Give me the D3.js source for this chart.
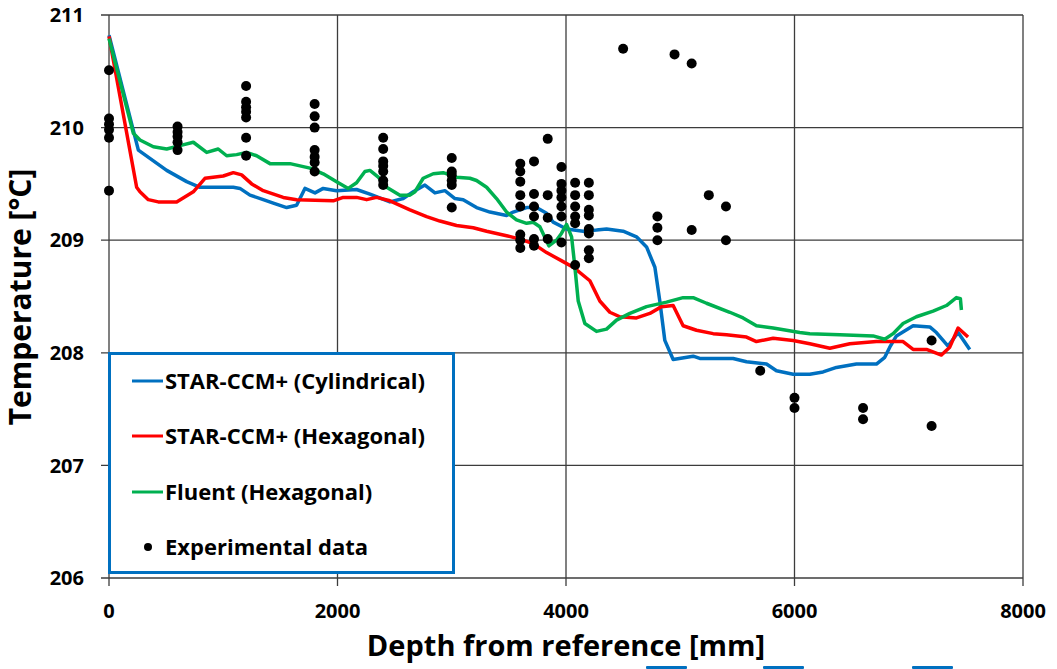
<!DOCTYPE html>
<html>
<head>
<meta charset="utf-8">
<script src="https://cdn.jsdelivr.net/npm/d3@7"></script>
<style>
	body { margin: 0; background: #fff; }
	text { font-family: "Open Sans", Lato, sans-serif; fill: #000; }
</style>
</head>
<body>
<div id="chart"></div>
<script>
// Simulation results, [depth mm, temperature C]
var cylindrical = [
	[0, 210.82], [257, 209.80], [505, 209.62], [680, 209.52], [796, 209.47], [971, 209.47],
	[1088, 209.47], [1146, 209.46], [1234, 209.40], [1350, 209.36], [1438, 209.33], [1555, 209.29],
	[1642, 209.31], [1715, 209.46], [1803, 209.42], [1875, 209.46], [1992, 209.44], [2167, 209.45],
	[2284, 209.41], [2459, 209.34], [2575, 209.37], [2663, 209.43], [2765, 209.49], [2853, 209.42],
	[2940, 209.44], [3028, 209.37], [3100, 209.36], [3217, 209.29], [3334, 209.25], [3480, 209.22],
	[3538, 209.25], [3655, 209.29], [3742, 209.29], [3830, 209.24], [3888, 209.16], [4005, 209.10],
	[4150, 209.08], [4267, 209.09], [4355, 209.10], [4500, 209.08], [4617, 209.03], [4705, 208.94],
	[4778, 208.76], [4821, 208.46], [4865, 208.11], [4938, 207.94], [5113, 207.97], [5171, 207.95],
	[5463, 207.95], [5580, 207.92], [5755, 207.90], [5842, 207.84], [5988, 207.81], [6134, 207.81],
	[6250, 207.83], [6367, 207.87], [6542, 207.90], [6717, 207.90], [6790, 207.96], [6834, 208.05],
	[6892, 208.15], [7038, 208.24], [7184, 208.23], [7242, 208.18], [7344, 208.06], [7432, 208.18],
	[7534, 208.03]
];

var hexagonal = [
	[0, 210.81], [242, 209.47], [271, 209.43], [344, 209.36], [431, 209.34], [592, 209.34],
	[738, 209.43], [840, 209.55], [1000, 209.57], [1088, 209.60], [1161, 209.58], [1249, 209.50],
	[1350, 209.44], [1525, 209.38], [1642, 209.36], [1963, 209.35], [2050, 209.38], [2167, 209.38],
	[2255, 209.36], [2342, 209.38], [2459, 209.35], [2634, 209.27], [2780, 209.21], [2896, 209.17],
	[3042, 209.13], [3188, 209.11], [3305, 209.08], [3480, 209.04], [3596, 209.01], [3713, 208.97],
	[3830, 208.89], [3975, 208.81], [4063, 208.76], [4209, 208.64], [4296, 208.46], [4384, 208.36],
	[4471, 208.32], [4617, 208.31], [4734, 208.35], [4836, 208.41], [4938, 208.42], [5025, 208.24],
	[5142, 208.20], [5288, 208.17], [5405, 208.16], [5580, 208.14], [5667, 208.10], [5813, 208.13],
	[5988, 208.11], [6134, 208.08], [6309, 208.04], [6484, 208.08], [6717, 208.10], [6950, 208.10],
	[7038, 208.03], [7155, 208.03], [7286, 207.98], [7359, 208.05], [7432, 208.22], [7519, 208.14]
];

var fluent = [
	[0, 210.79], [213, 209.95], [271, 209.89], [388, 209.83], [505, 209.81], [621, 209.84],
	[738, 209.87], [855, 209.78], [956, 209.81], [1030, 209.75], [1117, 209.76], [1205, 209.78],
	[1292, 209.75], [1409, 209.68], [1584, 209.68], [1759, 209.64], [1875, 209.59], [1992, 209.52],
	[2094, 209.46], [2167, 209.51], [2240, 209.61], [2284, 209.62], [2357, 209.56], [2430, 209.47],
	[2546, 209.40], [2634, 209.40], [2678, 209.43], [2750, 209.55], [2838, 209.59], [2925, 209.60],
	[3042, 209.56], [3159, 209.55], [3217, 209.53], [3305, 209.47], [3392, 209.37], [3480, 209.25],
	[3567, 209.18], [3655, 209.15], [3713, 209.16], [3771, 209.12], [3850, 208.95], [3917, 209.00],
	[3960, 209.06], [4005, 209.14], [4049, 209.03], [4078, 208.76], [4107, 208.46], [4165, 208.26],
	[4267, 208.19], [4355, 208.21], [4442, 208.29], [4559, 208.35], [4705, 208.41], [4880, 208.45],
	[5025, 208.49], [5113, 208.49], [5230, 208.44], [5434, 208.36], [5550, 208.31], [5667, 208.24],
	[5813, 208.22], [6046, 208.18], [6134, 208.17], [6396, 208.16], [6688, 208.15], [6790, 208.12],
	[6863, 208.17], [6950, 208.26], [7067, 208.32], [7213, 208.37], [7330, 208.42], [7417, 208.49],
	[7452, 208.48], [7461, 208.38]
];

// Experimental thermocouple readings, grouped by depth
var expDepths = [0, 600, 1200, 1800, 2400, 3000, 3600, 3720, 3840, 3960, 4080, 4200,
	4500, 4800, 4950, 5100, 5250, 5400, 5700, 6000, 6600, 7200];
var expTemps = [
	[210.51, 210.08, 210.03, 209.98, 209.91, 209.44],
	[210.01, 209.96, 209.92, 209.87, 209.80],
	[210.37, 210.23, 210.18, 210.14, 210.09, 209.91, 209.75],
	[210.21, 210.10, 210.00, 209.80, 209.74, 209.69, 209.61],
	[209.91, 209.81, 209.70, 209.66, 209.61, 209.53, 209.49],
	[209.73, 209.61, 209.58, 209.53, 209.49, 209.29],
	[209.68, 209.61, 209.52, 209.40, 209.30, 209.05, 209.00, 208.93],
	[209.70, 209.41, 209.30, 209.21, 209.01, 208.95],
	[209.90, 209.40, 209.20, 209.01],
	[209.65, 209.50, 209.44, 209.38, 209.30, 209.21, 208.98],
	[209.51, 209.40, 209.30, 209.21, 209.15, 208.78],
	[209.51, 209.40, 209.27, 209.22, 209.10, 209.06, 208.91, 208.84],
	[210.70],
	[209.21, 209.11, 209.00],
	[210.65],
	[210.57, 209.09],
	[209.40],
	[209.30, 209.00],
	[207.84],
	[207.60, 207.51],
	[207.51, 207.41],
	[208.11, 207.35]
];

var xTicks = [0, 2000, 4000, 6000, 8000];
var yTicks = [206, 207, 208, 209, 210, 211];
var seriesNames = ['STAR-CCM+ (Cylindrical)', 'STAR-CCM+ (Hexagonal)', 'Fluent (Hexagonal)'];
var seriesColors = ['#0070C0', '#FF0000', '#00B050'];

var width = 1057;
var height = 669;
var plot = {left: 109, right: 1023, top: 15, bottom: 578};

var xScale = d3.scaleLinear()
		.domain([0, 8000])
		.range([plot.left, plot.right]);

var yScale = d3.scaleLinear()
		.domain([206, 211])
		.range([plot.bottom, plot.top]);

var svg = d3.select('#chart').append('svg')
		.attr('width', width)
		.attr('height', height);

svg.append('rect')
		.attr('width', width)
		.attr('height', height)
		.attr('fill', '#fff');

// Grid lines (also form the frame)
svg.append('g')
		.selectAll('line')
		.data(yTicks)
		.enter()
		.append('line')
		.attr('x1', plot.left - 8)
		.attr('x2', plot.right)
		.attr('y1', d => yScale(d))
		.attr('y2', d => yScale(d))
		.attr('stroke', '#3c3c3c')
		.attr('stroke-width', 1.3);

svg.append('g')
		.selectAll('line')
		.data(xTicks)
		.enter()
		.append('line')
		.attr('x1', d => xScale(d))
		.attr('x2', d => xScale(d))
		.attr('y1', plot.top)
		.attr('y2', plot.bottom + 8)
		.attr('stroke', '#3c3c3c')
		.attr('stroke-width', 1.3);

// Tick labels
svg.append('g')
		.selectAll('text')
		.data(yTicks)
		.enter()
		.append('text')
		.attr('x', 84)
		.attr('y', d => yScale(d))
		.attr('dy', '0.36em')
		.attr('text-anchor', 'end')
		.attr('font-size', 20)
		.attr('font-weight', 'bold')
		.text(d => d);

svg.append('g')
		.selectAll('text')
		.data(xTicks)
		.enter()
		.append('text')
		.attr('x', d => xScale(d))
		.attr('y', 611)
		.attr('dy', '0.36em')
		.attr('text-anchor', 'middle')
		.attr('font-size', 20)
		.attr('font-weight', 'bold')
		.text(d => d);

// Axis titles
svg.append('text')
		.attr('x', 566)
		.attr('y', 656)
		.attr('text-anchor', 'middle')
		.attr('font-size', 29)
		.attr('font-weight', 'bold')
		.text('Depth from reference [mm]');

svg.append('text')
		.attr('transform', 'translate(31,297) rotate(-90)')
		.attr('text-anchor', 'middle')
		.attr('font-size', 30)
		.attr('font-weight', 'bold')
		.text('Temperature [°C]');

// Simulation lines
var line = d3.line()
		.x(d => xScale(d[0]))
		.y(d => yScale(d[1]));

svg.append('g')
		.selectAll('path')
		.data([cylindrical, hexagonal, fluent])
		.enter()
		.append('path')
		.attr('d', line)
		.attr('fill', 'none')
		.attr('stroke', (d, i) => seriesColors[i])
		.attr('stroke-width', 3.5)
		.attr('stroke-linejoin', 'round');

// Experimental points
var points = [];
expDepths.forEach(function(depth, i) {
	expTemps[i].forEach(function(t) {
		points.push({depth: depth, temp: t});
	});
});

svg.append('g')
		.selectAll('circle')
		.data(points)
		.enter()
		.append('circle')
		.attr('cx', d => xScale(d.depth))
		.attr('cy', d => yScale(d.temp))
		.attr('r', 5)
		.attr('fill', '#000');

// Legend
var legend = svg.append('g');

legend.append('rect')
		.attr('x', 109.5)
		.attr('y', 353.5)
		.attr('width', 344)
		.attr('height', 219)
		.attr('fill', '#fff')
		.attr('stroke', '#0070C0')
		.attr('stroke-width', 3);

var legendRows = [381, 436, 492, 547];

seriesNames.forEach(function(name, i) {
	legend.append('line')
			.attr('x1', 132)
			.attr('x2', 163)
			.attr('y1', legendRows[i])
			.attr('y2', legendRows[i])
			.attr('stroke', seriesColors[i])
			.attr('stroke-width', 3);
	legend.append('text')
			.attr('x', 165)
			.attr('y', legendRows[i])
			.attr('dy', '0.36em')
			.attr('font-size', 22)
			.attr('font-weight', 'bold')
			.text(name);
});

legend.append('circle')
		.attr('cx', 148)
		.attr('cy', legendRows[3])
		.attr('r', 4)
		.attr('fill', '#000');

legend.append('text')
		.attr('x', 165)
		.attr('y', legendRows[3])
		.attr('dy', '0.36em')
		.attr('font-size', 22)
		.attr('font-weight', 'bold')
		.text('Experimental data');

// Cropped edges of shapes below the figure
svg.append('g')
		.selectAll('rect')
		.data([646, 763, 912])
		.enter()
		.append('rect')
		.attr('x', d => d)
		.attr('y', 666)
		.attr('width', 41)
		.attr('height', 3)
		.attr('rx', 1)
		.attr('fill', '#0070C0');
</script>
</body>
</html>
